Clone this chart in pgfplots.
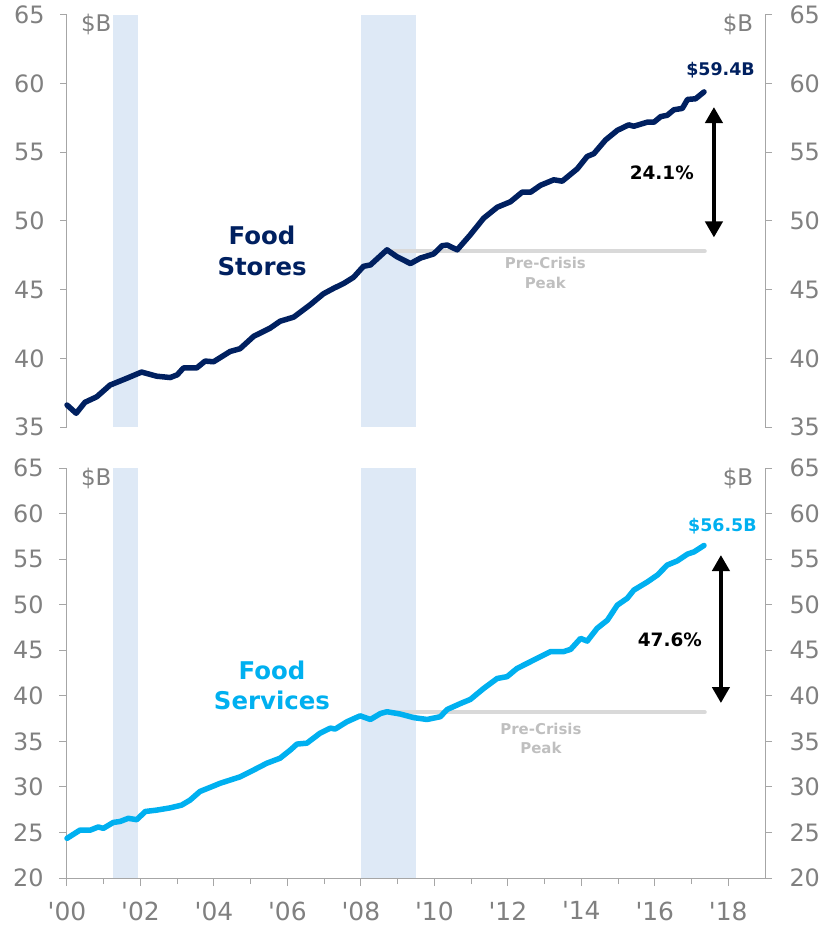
\documentclass[border=0pt]{standalone}
\usepackage{fontspec}
\setmainfont{DejaVu Sans}
\usepackage{pgfplots}
\pgfplotsset{compat=1.18}
\usetikzlibrary{arrows.meta}

\definecolor{navy}{RGB}{0,32,96}
\definecolor{cyanline}{RGB}{0,176,240}
\definecolor{recess}{RGB}{222,233,246}
\definecolor{axisgray}{RGB}{166,166,166}
\definecolor{labelgray}{RGB}{128,128,128}
\definecolor{peakline}{RGB}{217,217,217}
\definecolor{peaktext}{RGB}{191,191,191}

\pgfplotsset{
  panel/.style={
    scale only axis, width=698bp,
    xmin=2000, xmax=2019,
    axis line style={axisgray, line width=1bp},
    tick style={axisgray, line width=1bp},
    tick align=outside,
    major tick length=7bp,
    minor tick length=6bp,
    ticklabel style={font=\fontsize{24}{28}\selectfont, text=labelgray},
    xticklabel style={yshift=-12bp, font=\fontsize{25}{28}\selectfont},
    /pgf/number format/assume math mode=true,
    clip=false,
  },
  leftside/.style={axis y line*=left, yticklabel style={xshift=-12bp}},
  rightside/.style={axis y line*=right, axis x line=none, yticklabel style={xshift=14bp}},
  series/.style={line width=5.5bp, line join=round, line cap=round},
  dblarrow/.style={line width=4bp, black,
    {Triangle[width=17bp,length=16bp]}-{Triangle[width=17bp,length=16bp]}},
}

\pgfplotstableread{
year val
2000.00 36.6
2000.25 36.0
2000.49 36.8
2000.81 37.2
2001.17 38.05
2001.40 38.3
2001.63 38.55
2002.03 39.0
2002.44 38.7
2002.81 38.6
2003.00 38.8
2003.17 39.3
2003.53 39.3
2003.76 39.8
2003.99 39.75
2004.44 40.5
2004.71 40.7
2005.08 41.6
2005.53 42.2
2005.80 42.7
2006.17 43.0
2006.62 43.9
2006.98 44.7
2007.26 45.1
2007.53 45.45
2007.80 45.9
2008.07 46.7
2008.26 46.8
2008.71 47.9
2008.98 47.4
2009.35 46.9
2009.62 47.3
2009.98 47.6
2010.21 48.2
2010.35 48.25
2010.62 47.9
2010.98 49.0
2011.34 50.2
2011.71 51.0
2012.07 51.4
2012.39 52.1
2012.62 52.1
2012.89 52.6
2013.25 53.0
2013.48 52.9
2013.89 53.8
2014.16 54.7
2014.34 54.9
2014.66 55.9
2014.98 56.6
2015.29 57.0
2015.43 56.9
2015.80 57.2
2015.98 57.2
2016.16 57.6
2016.34 57.7
2016.52 58.1
2016.75 58.2
2016.89 58.85
2017.11 58.9
2017.34 59.4
}\stores

\pgfplotstableread{
year val
2000.00 24.35
2000.35 25.25
2000.63 25.25
2000.85 25.6
2000.99 25.45
2001.26 26.1
2001.44 26.2
2001.67 26.55
2001.90 26.4
2002.13 27.3
2002.44 27.45
2002.81 27.7
2003.12 28.0
2003.35 28.55
2003.62 29.5
2003.99 30.1
2004.17 30.4
2004.44 30.75
2004.71 31.1
2005.08 31.85
2005.44 32.6
2005.80 33.15
2006.08 34.05
2006.26 34.7
2006.53 34.8
2006.89 35.9
2007.17 36.45
2007.30 36.35
2007.62 37.15
2007.98 37.8
2008.26 37.4
2008.53 38.05
2008.71 38.25
2009.07 38.0
2009.44 37.6
2009.80 37.4
2010.16 37.7
2010.35 38.5
2010.71 39.15
2010.98 39.6
2011.34 40.8
2011.71 41.9
2011.98 42.1
2012.25 43.0
2012.62 43.75
2012.89 44.3
2013.16 44.85
2013.52 44.85
2013.71 45.1
2013.98 46.3
2014.16 46.0
2014.43 47.4
2014.71 48.3
2014.98 49.95
2015.25 50.7
2015.43 51.6
2015.80 52.5
2016.07 53.25
2016.34 54.35
2016.61 54.8
2016.89 55.55
2017.07 55.8
2017.34 56.5
}\services

\begin{document}
\begin{tikzpicture}
\useasboundingbox (-67bp,-499bp) rectangle (758bp,427bp);

% ---- top panel: food stores
\begin{axis}[panel, leftside, height=412bp, at={(0bp,0bp)}, anchor=south west,
    ymin=35, ymax=65, ytick={35,40,...,65},
    axis x line=none]
  \addplot[fill=recess, draw=none] coordinates {(2001.25,35) (2001.92,35) (2001.92,65) (2001.25,65)} -- cycle;
  \addplot[fill=recess, draw=none] coordinates {(2008.0,35) (2009.5,35) (2009.5,65) (2008.0,65)} -- cycle;
  \addplot[peakline, line width=4bp, line cap=round] coordinates {(2008.71,47.8) (2017.36,47.8)};
  \addplot[series, navy] table[x=year, y=val] {\stores};
  \addplot[dblarrow] coordinates {(2017.61,48.8) (2017.61,58.3)};
  \node[inner sep=0, text=labelgray, font=\fontsize{23}{26}\selectfont, anchor=west] at (axis cs:2000.38,64.3) {\$B};
  \node[inner sep=0, text=labelgray, font=\fontsize{23}{26}\selectfont, anchor=east] at (axis cs:2018.68,64.3) {\$B};
  \node[inner sep=0, text=navy, align=center, font=\fontsize{24.5}{31}\selectfont\bfseries] at (axis cs:2005.31,47.85) {Food\\Stores};
  \node[inner sep=0, text=navy, font=\fontsize{17.5}{20}\selectfont\bfseries] at (axis cs:2017.79,61.0) {\$59.4B};
  \node[inner sep=0, text=black, font=\fontsize{18.5}{21}\selectfont\bfseries] at (axis cs:2016.19,53.5) {24.1\%};
  \node[inner sep=0, text=peaktext, align=center, font=\fontsize{15}{20}\selectfont\bfseries] at (axis cs:2013.02,46.25) {Pre-Crisis\\Peak};
\end{axis}
\begin{axis}[panel, rightside, height=412bp, at={(0bp,0bp)}, anchor=south west,
    ymin=35, ymax=65, ytick={35,40,...,65}]
  \addplot[draw=none] coordinates {(2000,35)};
\end{axis}

% ---- bottom panel: food services
\begin{axis}[panel, leftside, height=410bp, at={(0bp,-451bp)}, anchor=south west,
    ymin=20, ymax=65, ytick={20,25,...,65},
    axis x line*=bottom,
    xtick={2000,2002,...,2018},
    minor xtick={2001,2003,...,2017},
    major tick length=8bp,
    xticklabels={\textquotesingle00,\textquotesingle02,\textquotesingle04,\textquotesingle06,\textquotesingle08,\textquotesingle10,\textquotesingle12,\textquotesingle14,\textquotesingle16,\textquotesingle18}]
  \addplot[fill=recess, draw=none] coordinates {(2001.25,20) (2001.92,20) (2001.92,65) (2001.25,65)} -- cycle;
  \addplot[fill=recess, draw=none] coordinates {(2008.0,20) (2009.5,20) (2009.5,65) (2008.0,65)} -- cycle;
  \addplot[peakline, line width=4bp, line cap=round] coordinates {(2008.71,38.2) (2017.36,38.2)};
  \addplot[series, cyanline] table[x=year, y=val] {\services};
  \addplot[dblarrow] coordinates {(2017.8,39.2) (2017.8,55.45)};
  \node[inner sep=0, text=labelgray, font=\fontsize{23}{26}\selectfont, anchor=west] at (axis cs:2000.38,63.9) {\$B};
  \node[inner sep=0, text=labelgray, font=\fontsize{23}{26}\selectfont, anchor=east] at (axis cs:2018.68,63.9) {\$B};
  \node[inner sep=0, text=cyanline, align=center, font=\fontsize{24.5}{30}\selectfont\bfseries] at (axis cs:2005.58,41.15) {Food\\Services};
  \node[inner sep=0, text=cyanline, font=\fontsize{17.5}{20}\selectfont\bfseries] at (axis cs:2017.84,58.6) {\$56.5B};
  \node[inner sep=0, text=black, font=\fontsize{18.5}{21}\selectfont\bfseries] at (axis cs:2016.41,46.1) {47.6\%};
  \node[inner sep=0, text=peaktext, align=center, font=\fontsize{15}{19}\selectfont\bfseries] at (axis cs:2012.9,35.35) {Pre-Crisis\\Peak};
\end{axis}
\begin{axis}[panel, rightside, height=410bp, at={(0bp,-451bp)}, anchor=south west,
    ymin=20, ymax=65, ytick={20,25,...,65}]
  \addplot[draw=none] coordinates {(2000,20)};
\end{axis}
\end{tikzpicture}
\end{document}
